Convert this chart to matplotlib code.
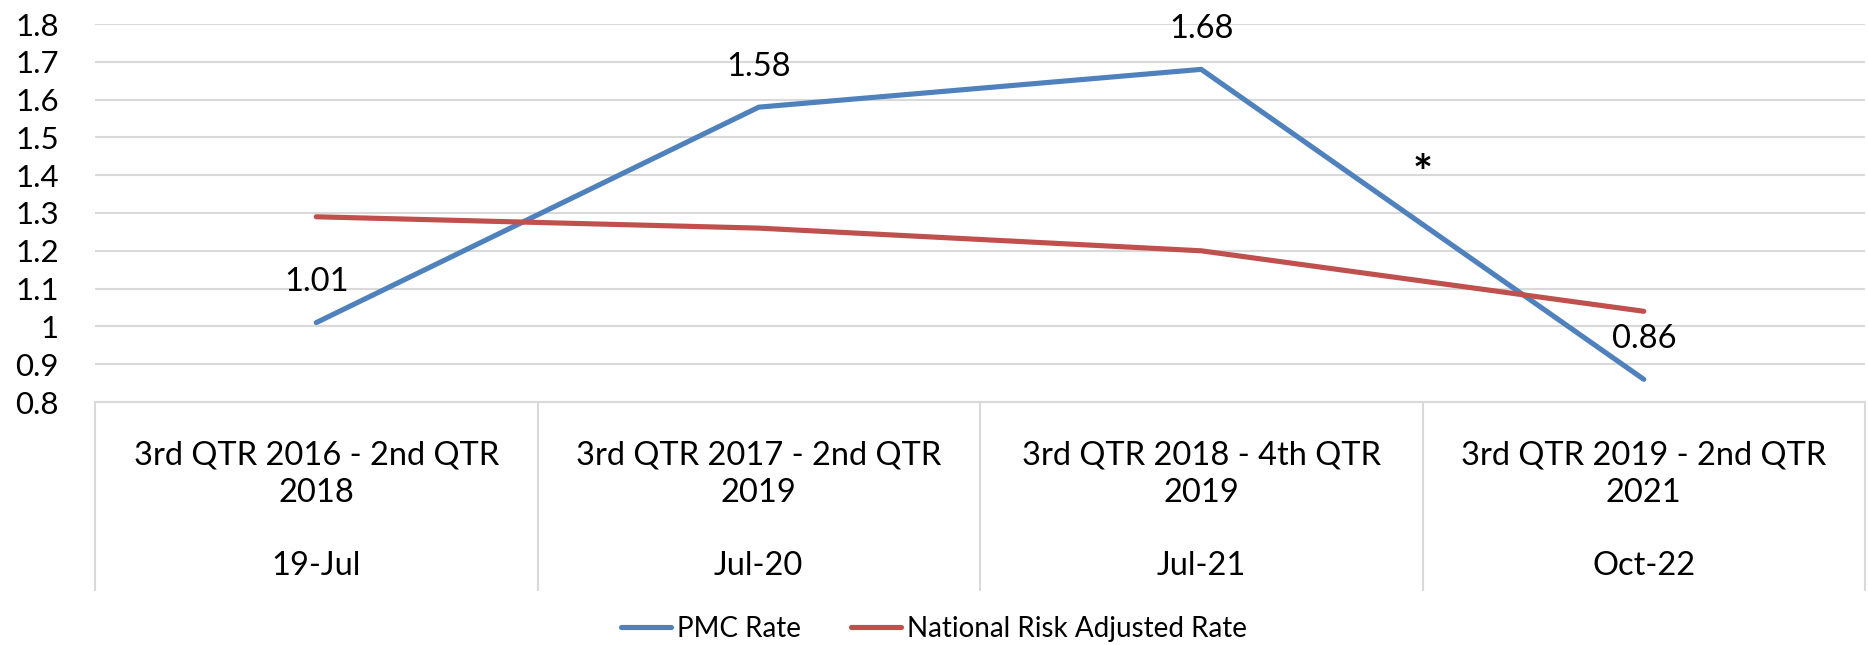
import matplotlib.pyplot as plt
from matplotlib.lines import Line2D

plt.rcParams['font.family'] = ['Lato', 'DejaVu Sans']

# Datos
periodos = ["3rd QTR 2016 - 2nd QTR\n2018", "3rd QTR 2017 - 2nd QTR\n2019",
            "3rd QTR 2018 - 4th QTR\n2019", "3rd QTR 2019 - 2nd QTR\n2021"]
fechas = ["19-Jul", "Jul-20", "Jul-21", "Oct-22"]
pmc_rate = [1.01, 1.58, 1.68, 0.86]
nacional = [1.29, 1.26, 1.20, 1.04]
yticks = [0.8, 0.9, 1.0, 1.1, 1.2, 1.3, 1.4, 1.5, 1.6, 1.7, 1.8]

azul = '#4F81BD'
rojo = '#C0504D'
gris = '#d9d9d9'

W, H = 1868, 645
fig = plt.figure(figsize=(W / 100, H / 100), dpi=100)
left, right, top, bottom = 95, 1865, 24, 402
ax = fig.add_axes([left / W, 1 - bottom / H, (right - left) / W, (bottom - top) / H])

x = list(range(len(periodos)))
ax.plot(x, pmc_rate, color=azul, lw=3.7, solid_capstyle='round', zorder=3)
ax.plot(x, nacional, color=rojo, lw=3.7, solid_capstyle='round', zorder=3)

ax.set_xlim(-0.5, len(periodos) - 0.5)
ax.set_ylim(0.8, 1.8)
ax.set_yticks(yticks)
ax.set_yticklabels([f"{v:g}" for v in yticks], fontsize=22.5)
ax.tick_params(axis='y', length=0, pad=26)
ax.set_xticks([])
for s in ['left', 'right', 'top']:
    ax.spines[s].set_visible(False)
ax.spines['bottom'].set_color(gris)
ax.spines['bottom'].set_linewidth(1.5)
ax.grid(axis='y', color=gris, lw=1.5)
ax.set_axisbelow(True)

# etiquetas de datos
for xi, v in zip(x, pmc_rate):
    ax.annotate(f"{v:.2f}", (xi, v), xytext=(0, 29), textcoords='offset points',
                ha='center', va='center', fontsize=23.5)
ax.text(2.5, 1.40, "*", ha='center', va='center', fontsize=34, fontweight='bold')

# caja de categorías
trans = ax.get_xaxis_transform()
caja = (590 - bottom) / (bottom - top)
for b in [i - 0.5 for i in range(len(periodos) + 1)]:
    ax.plot([b, b], [0, -caja], transform=trans, color=gris, lw=1.5, clip_on=False)
for xi, p, f in zip(x, periodos, fechas):
    ax.text(xi, (bottom - 474) / (bottom - top), p, transform=trans, ha='center',
            va='center', fontsize=23.5, linespacing=1.3)
    ax.text(xi, (bottom - 566) / (bottom - top), f, transform=trans, ha='center',
            va='center', fontsize=23.5)

handles = [Line2D([], [], color=azul, lw=3.7, solid_capstyle='round'),
           Line2D([], [], color=rojo, lw=3.7, solid_capstyle='round')]
fig.legend(handles, ["PMC Rate", "National Risk Adjusted Rate"], loc='center',
           bbox_to_anchor=(0.5, 1 - 629 / H), ncol=2, frameon=False, fontsize=20,
           handlelength=1.8, handletextpad=0.2, columnspacing=1.8)

fig.savefig("out.png", dpi=100)
